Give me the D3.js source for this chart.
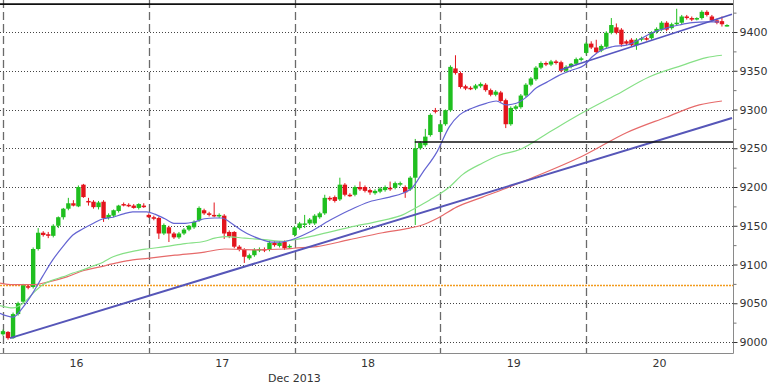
<!DOCTYPE html>
<html><head><meta charset="utf-8">
<script src="https://cdn.jsdelivr.net/npm/d3@7"></script>
<style>body{margin:0;background:#fff}svg{display:block}</style>
</head><body><svg id="c" width="768" height="384"></svg>
<script>
// ---- Data (30-min candles, Dec 16-20 2013, 29 per day) ----
const dayLabels = ["16","17","18","19","20"];
const monthLabel = "Dec 2013";
const yTicks = [9000,9050,9100,9150,9200,9250,9300,9350,9400];
const yMinor = [9025,9075,9125,9175,9225,9275,9325,9375,9425];

const open = [
 9010,9013,9005,9036,9052,9072,9071,9120,9141,9139,9137,9150,9161,9172,9179,9175,9203,9182,9181,9174,9181,9160,9163,9169,9178,9177,9176,9173,9176,
 9164,9161,9160,9140,9148,9140,9135,9140,9145,9148,9157,9170,9166,9164,9162,9163,9142,9142,9123,9119,9108,9112,9118,9120,9119,9128,9124,9129,9122,
 9138,9147,9152,9153,9153,9161,9166,9186,9187,9184,9203,9190,9190,9200,9200,9196,9192,9194,9196,9199,9199,9203,9200,9197,9212,9250,9254,9267,9299,
 9271,9281,9299,9353,9347,9330,9328,9327,9330,9332,9325,9319,9322,9312,9281,9301,9303,9318,9332,9339,9354,9360,9358,9362,9361,9350,9355,9359,9364,
 9373,9385,9380,9376,9381,9399,9406,9403,9388,9390,9383,9390,9392,9392,9400,9403,9412,9405,9410,9412,9420,9418,9417,9418,9426,9420,9415,9414,9408];
const high = [
 9016,9014,9038,9052,9075,9074,9122,9147,9143,9142,9152,9162,9173,9186,9183,9202,9204,9186,9183,9182,9183,9166,9171,9177,9180,9179,9178,9179,9179,
 9166,9163,9162,9153,9150,9142,9142,9147,9151,9157,9175,9172,9168,9180,9166,9165,9144,9143,9125,9121,9114,9121,9122,9122,9131,9130,9130,9131,9126,
 9150,9155,9164,9160,9165,9168,9190,9188,9189,9212,9205,9192,9202,9207,9202,9198,9197,9200,9202,9207,9207,9207,9202,9214,9262,9259,9275,9295,9302,
 9283,9300,9357,9370,9349,9332,9330,9333,9335,9334,9327,9325,9324,9314,9304,9306,9320,9334,9342,9356,9362,9362,9364,9364,9363,9357,9360,9367,9368,
 9387,9388,9390,9384,9401,9418,9411,9405,9390,9392,9392,9394,9394,9401,9406,9414,9414,9412,9430,9422,9422,9420,9419,9428,9428,9422,9417,9420,9410];
const low = [
 9008,9003,9004,9034,9050,9068,9069,9118,9136,9134,9135,9147,9158,9170,9175,9174,9186,9176,9172,9171,9155,9158,9161,9167,9175,9174,9172,9171,9173,
 9160,9157,9133,9138,9129,9133,9133,9138,9143,9146,9155,9164,9162,9161,9160,9133,9134,9121,9117,9102,9106,9110,9116,9116,9117,9123,9122,9119,9120,
 9136,9145,9147,9151,9151,9159,9164,9182,9180,9182,9188,9187,9188,9195,9193,9190,9190,9192,9194,9195,9197,9201,9186,9195,9151,9248,9252,9265,9295,
 9269,9279,9297,9345,9327,9325,9325,9325,9328,9323,9317,9317,9309,9276,9279,9299,9301,9316,9330,9337,9352,9356,9356,9358,9348,9348,9353,9357,9362,
 9371,9378,9372,9374,9379,9397,9397,9381,9383,9381,9377,9388,9389,9390,9398,9401,9401,9403,9408,9410,9416,9414,9415,9416,9420,9413,9410,9407,9407];
const close = [
 9014,9005,9036,9050,9073,9071,9120,9141,9138,9137,9150,9161,9172,9179,9176,9200,9187,9181,9174,9180,9160,9164,9170,9176,9177,9176,9173,9178,9174,
 9161,9159,9140,9151,9140,9135,9140,9145,9150,9155,9173,9166,9164,9163,9164,9140,9136,9123,9119,9110,9112,9119,9120,9118,9128,9125,9128,9121,9124,
 9148,9153,9153,9158,9163,9166,9186,9184,9182,9203,9190,9189,9200,9197,9195,9193,9195,9198,9200,9197,9205,9205,9193,9212,9250,9257,9265,9293,9297,
 9281,9299,9355,9347,9329,9327,9327,9331,9333,9325,9319,9323,9311,9281,9302,9304,9318,9332,9340,9354,9360,9358,9362,9360,9350,9355,9359,9365,9366,
 9385,9380,9374,9382,9399,9409,9399,9384,9385,9383,9390,9392,9391,9400,9404,9412,9403,9410,9412,9420,9418,9416,9418,9426,9422,9415,9412,9410,9409];

// moving averages (candle index, value)
const maFastIdx = [-0.6,2,4,6,7.9,9.9,11.9,13.9,15.9,17.9,19.9,21.9,23.8,25.8,28.6,30.2,32.2,34.2,36.2,38.1,40.1,42.1,43.5,45.5,47.5,49.5,51.5,53.4,55.4,57.4,61,65,68.9,72.9,76.9,79.5,81.4,83.4,86.2,88.8,90.8,93.4,96.1,98.1,100.1,102.1,104.1,106.1,108.1,110.6,113.2,115.6,117.2,119.2,121.2,124,126.5,129.1,131.9,134.5,137.1,139.9,142.4];
const maFastVal = [9037,9032,9045,9064,9085,9106,9123,9138,9146,9153,9159,9161,9165,9168,9168,9165,9159,9153,9153,9155,9159,9160,9160,9153,9144,9137,9132,9129,9129,9132,9142,9157,9170,9181,9187,9192,9199,9218,9244,9278,9293,9302,9308,9311,9306,9308,9316,9328,9335,9344,9351,9357,9368,9377,9381,9383,9390,9399,9405,9409,9412,9413,9413];
const maMidIdx = [-0.6,2,4,6,7.9,9.9,11.9,13.9,15.9,17.9,19.9,21.9,23.8,25.8,28.6,32.2,36.2,40.1,42.1,44.1,48.1,52,56,58,62.4,68.9,75.5,79.5,81.8,84.8,88.8,91.4,95.4,98.7,102.7,108.7,115.6,122,128.5,135.1,139.9,143];
const maMidVal = [9047,9044,9050,9063,9074,9080,9084,9089,9093,9098,9103,9110,9114,9117,9120,9123,9127,9130,9134,9136,9134,9132,9130,9132,9138,9148,9157,9164,9172,9183,9200,9216,9231,9241,9248,9271,9297,9319,9342,9357,9367,9370];
const maSlowIdx = [-0.6,2,6,8.7,12.7,15.9,19.3,22.6,25.8,28.8,34.2,40.1,44.1,50.1,56,57.8,62.4,68.9,75.5,80.9,83.4,86.8,90.2,95.4,100.7,105.3,115.6,124,131.9,138.5,143];
const maSlowVal = [9076,9074,9074,9077,9084,9092,9097,9102,9106,9108,9112,9116,9120,9119,9120,9121,9123,9132,9141,9147,9151,9161,9174,9187,9200,9212,9241,9270,9290,9306,9311];

// trend lines and levels
const trendLowIdx = [1.4,145], trendLowVal = [9005,9289];
const trendHighIdx = [110.8,145], trendHighVal = [9351,9423];
const levelTop = 9436, levelRes = 9258, levelResFrom = 81.9, levelOrange = 9073;

// ---- Drawing ----
const svg = d3.select("#c");
const R = 733, B = 353;
const x = d3.scaleLinear().domain([0,145]).range([3,732]);
const y = d3.scaleLinear().domain([9000,9400]).range([342,32]);
const font = "DejaVu Sans, Verdana, sans-serif";

const g = svg.append("g");
// horizontal grid
g.selectAll("line.hg").data(yTicks).join("line")
  .attr("x1",0).attr("x2",R).attr("y1",d=>Math.round(y(d))+0.5).attr("y2",d=>Math.round(y(d))+0.5)
  .attr("stroke","#444").attr("stroke-width",1).attr("stroke-dasharray","1,2");
// day separators
const dayStarts = dayLabels.map((_,i)=>i*29);
g.selectAll("line.vg").data(dayStarts).join("line")
  .attr("x1",d=>Math.round(x(d))+0.5).attr("x2",d=>Math.round(x(d))+0.5).attr("y1",0).attr("y2",B)
  .attr("stroke","#6a6a6a").attr("stroke-width",1.3).attr("stroke-dasharray","8,4");
// orange level
g.append("line").attr("x1",0).attr("x2",R).attr("y1",y(levelOrange)).attr("y2",y(levelOrange))
  .attr("stroke","#f29b1d").attr("stroke-width",1.5).attr("stroke-dasharray","2,1");

// candles
const idx = d3.range(open.length);
const cg = g.append("g");
idx.forEach(i=>{
  const up = close[i] >= open[i];
  const col = up ? "#1fbf1f" : "#e3141c";
  const cx = x(i);
  cg.append("line").attr("x1",cx).attr("x2",cx).attr("y1",y(high[i])).attr("y2",y(low[i]))
    .attr("stroke",col).attr("stroke-width",1);
  const top = y(Math.max(open[i],close[i])), bot = y(Math.min(open[i],close[i]));
  cg.append("rect").attr("x",cx-2.2).attr("width",4.4).attr("y",top).attr("height",Math.max(1.5,bot-top))
    .attr("fill",col);
});

// lines
const line = d3.line().x(d=>x(d[0])).y(d=>y(d[1])).curve(d3.curveMonotoneX);
const zip = (a,b)=>a.map((v,i)=>[v,b[i]]);
g.append("path").attr("d",line(zip(maSlowIdx,maSlowVal))).attr("fill","none").attr("stroke","#e66a6a").attr("stroke-width",1.2);
g.append("path").attr("d",line(zip(maMidIdx,maMidVal))).attr("fill","none").attr("stroke","#86e086").attr("stroke-width",1.2);
g.append("path").attr("d",line(zip(maFastIdx,maFastVal))).attr("fill","none").attr("stroke","#6464d2").attr("stroke-width",1.2);
const straight = d3.line().x(d=>x(d[0])).y(d=>y(d[1]));
g.append("path").attr("d",straight(zip(trendLowIdx,trendLowVal))).attr("fill","none").attr("stroke","#5656b8").attr("stroke-width",2);
g.append("path").attr("d",straight(zip(trendHighIdx,trendHighVal))).attr("fill","none").attr("stroke","#5656c0").attr("stroke-width",1.6);
// black levels
g.append("line").attr("x1",0).attr("x2",R).attr("y1",y(levelTop)).attr("y2",y(levelTop)).attr("stroke","#111").attr("stroke-width",1.6);
g.append("line").attr("x1",x(levelResFrom)).attr("x2",R).attr("y1",y(levelRes)).attr("y2",y(levelRes)).attr("stroke","#111").attr("stroke-width",1.6);

// frame
svg.append("line").attr("x1",R+0.5).attr("x2",R+0.5).attr("y1",0).attr("y2",B+0.5).attr("stroke","#8a8a8a");
svg.append("line").attr("x1",0).attr("x2",R+0.5).attr("y1",B+0.5).attr("y2",B+0.5).attr("stroke","#8a8a8a");

// y axis
const ya = svg.append("g").attr("transform",`translate(${R+0.5},0)`)
  .call(d3.axisRight(y).tickValues(yTicks).tickSize(4).tickPadding(2).tickFormat(d3.format("d")));
ya.select(".domain").remove();
ya.selectAll("line").attr("stroke","#333");
ya.selectAll("text").attr("fill","#333").style("font-family",font).style("font-size","11px");
const ym = svg.append("g").attr("transform",`translate(${R+0.5},0)`)
  .call(d3.axisRight(y).tickValues(yMinor).tickSize(3).tickFormat(""));
ym.select(".domain").remove();
ym.selectAll("line").attr("stroke","#777");

// x axis
const dayCenters = dayLabels.map((_,i)=>i*29+14.5);
const xa = svg.append("g").attr("transform",`translate(0,${B})`)
  .call(d3.axisBottom(x).tickValues(dayCenters).tickSize(0).tickPadding(6).tickFormat((d,i)=>dayLabels[i]));
xa.select(".domain").remove();
xa.selectAll("text").attr("fill","#333").style("font-family",font).style("font-size","11px");
svg.append("text").attr("x",268).attr("y",382).text(monthLabel)
  .attr("fill","#333").style("font-family",font).style("font-size","11px");
</script></body></html>
